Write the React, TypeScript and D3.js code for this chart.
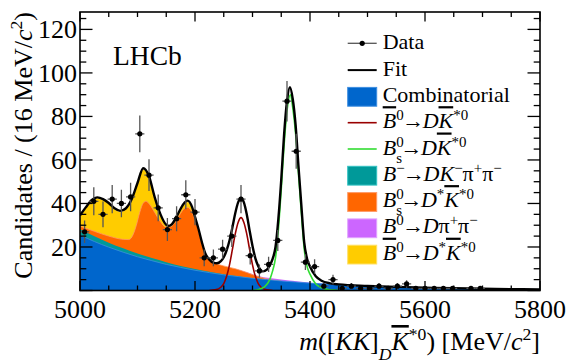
import React from 'react';
import * as d3 from 'd3';

type Pt = [number, number];

// mass grid [MeV/c^2], values = candidates per 16 MeV bin
const binWidth = 16;
const binStart = 5000;
const dataCounts = [
  27, 41, 35, 42, 40, 43, 72, 53, 38, 28, 33, 44, 36, 15, 15, 19, 25, 42, 16, 9,
  12, 23, 87, 64, 13, 11, 2, 5, 1, 2, 1, 1, 2, 1, 2, 3, 1, 1, 1, 1,
  1, 0, 1, 1, 0, 0, 0, 0, 0, 0,
];

// stacked upper edges of the filled components
const combTop: Pt[] = [
  [5000, 25.5], [5025, 22.5], [5050, 19.9], [5075, 17.6], [5100, 15.5], [5125, 13.7], [5150, 12.0],
  [5175, 10.6], [5200, 9.3], [5225, 8.2], [5250, 7.2], [5275, 6.4], [5300, 5.6], [5325, 5.0],
  [5350, 4.4], [5375, 3.9], [5400, 3.4], [5450, 2.7], [5500, 2.1], [5550, 1.65], [5600, 1.3],
  [5650, 1.0], [5700, 0.8], [5750, 0.6], [5800, 0.47],
];
const dkppTop: Pt[] = [
  [5000, 28.1], [5025, 24.9], [5050, 22.0], [5075, 19.4], [5100, 17.0], [5125, 14.9], [5150, 13.0],
  [5175, 11.3], [5200, 9.9], [5225, 8.6], [5250, 7.5], [5275, 6.5], [5300, 5.65], [5325, 5.0],
];
const bsDstarTop: Pt[] = [
  [5000, 29.6], [5025, 27.2], [5050, 25.0], [5075, 23.5], [5085, 23.4], [5092, 25.5], [5098, 30],
  [5104, 36], [5110, 40.2], [5115, 41], [5121, 39.6], [5130, 35.8], [5140, 31.6], [5150, 29],
  [5158, 29.3], [5166, 31.5], [5175, 35.5], [5182, 37.8], [5187, 38.2], [5193, 36.8], [5200, 32.5],
  [5206, 27.5], [5212, 21.5], [5218, 16.5], [5225, 14], [5235, 12.5], [5250, 11.3], [5270, 10],
  [5290, 8.3], [5310, 6.4], [5325, 5.3], [5340, 4.6], [5350, 4.4],
];
const dpipiTop: Pt[] = [
  [5270, 10], [5290, 8.4], [5310, 6.7], [5330, 5.7], [5350, 5.1], [5370, 4.5], [5390, 3.9],
  [5410, 3.3], [5430, 3.05], [5450, 2.7],
];
const bdDstarTop: Pt[] = [
  [5000, 34.2], [5010, 37.8], [5020, 41], [5030, 42.3], [5040, 41.6], [5050, 39.8], [5060, 37.4],
  [5070, 36.2], [5080, 37.3], [5090, 41.4], [5100, 48.8], [5110, 55.6], [5120, 52], [5130, 42.4],
  [5140, 34.6], [5150, 29.8], [5155, 29.3], [5160, 30.1], [5170, 34.5], [5180, 39.3], [5187, 40.7],
  [5195, 37.8], [5200, 33.3], [5206, 28], [5212, 21.8], [5218, 16.6], [5225, 14], [5235, 12.5],
];

// signal lines
const bdSignal: Pt[] = [
  [5225, 0], [5235, 0.3], [5245, 1.5], [5250, 3.2], [5255, 6.5], [5260, 11.8], [5265, 18.8],
  [5270, 26], [5275, 31.3], [5280, 33.5], [5285, 31.3], [5290, 26], [5295, 18.8], [5300, 11.8],
  [5305, 6.5], [5310, 3.2], [5315, 1.5], [5325, 0.3], [5335, 0],
];
const bsSignal: Pt[] = [
  [5300, 0], [5310, 0.4], [5320, 1.5], [5330, 5], [5335, 9], [5340, 15], [5345, 28], [5350, 46.5],
  [5355, 67], [5360, 82.5], [5366, 90], [5370, 84], [5375, 72], [5380, 53.5], [5385, 35.5],
  [5390, 19], [5395, 11], [5400, 7.5], [5410, 3], [5420, 1.3], [5435, 0.3], [5450, 0],
];

// total fit
const fitTotal: Pt[] = [
  [5000, 34.5], [5010, 38.2], [5020, 41.5], [5030, 42.8], [5040, 42], [5050, 40.2], [5060, 37.8],
  [5070, 36.6], [5080, 37.8], [5090, 42], [5100, 49.4], [5110, 56.2], [5120, 52.5], [5130, 42.8],
  [5140, 35], [5150, 30.2], [5155, 29.7], [5160, 30.5], [5170, 35], [5180, 39.8], [5187, 41.3],
  [5195, 38.3], [5200, 33.8], [5206, 28.4], [5212, 22.2], [5218, 17], [5225, 14.2], [5232, 12.8],
  [5238, 12.5], [5245, 13.5], [5250, 15.3], [5255, 18.5], [5260, 23], [5265, 29], [5270, 35.5],
  [5275, 40.5], [5280, 42.5], [5285, 40.5], [5290, 35], [5295, 27.5], [5300, 20.5], [5305, 14.8],
  [5310, 11.2], [5318, 8.8], [5325, 9.6], [5330, 11.5], [5335, 14.5], [5340, 20], [5345, 33],
  [5350, 51], [5355, 72], [5360, 87], [5365, 93.4], [5370, 88], [5375, 76], [5380, 57], [5385, 39],
  [5390, 22], [5395, 14.5], [5400, 11], [5410, 6.5], [5420, 4.5], [5435, 3.3], [5450, 2.8],
  [5500, 2.1], [5550, 1.65], [5600, 1.3], [5650, 1.0], [5700, 0.8], [5750, 0.6], [5800, 0.47],
];

const xMajor = [5000, 5200, 5400, 5600, 5800];
const yMajor = [0, 20, 40, 60, 80, 100, 120];

const colors = {
  comb: '#0066cc', combLine: '#3d8ee0',
  dkpp: '#009999', dkppLine: '#33c2c2',
  bsDstar: '#ff6600', bsDstarLine: '#ff9a66',
  dpipi: '#cc66ff', dpipiLine: '#e0a3ff',
  bdDstar: '#ffcc00', bdDstarLine: '#ffe066',
  bd: '#990000', bs: '#33dd33',
};

const FONT = '"Liberation Serif", "Times New Roman", serif';

const Sup: React.FC<{ t: string }> = ({ t }) => (
  <tspan baselineShift="super" fontSize="0.68em">{t}</tspan>
);
const Sub: React.FC<{ t: string; italic?: boolean; dx?: number }> = ({ t, italic, dx }) => (
  <tspan baselineShift="sub" fontSize="0.68em" fontStyle={italic ? 'italic' : 'normal'} dx={dx}>{t}</tspan>
);
const I: React.FC<{ t: string; bar?: boolean; dx?: number }> = ({ t, bar, dx }) => (
  <tspan fontStyle="italic" dx={dx} style={bar ? { textDecoration: 'overline' } : undefined}>{t}</tspan>
);
// arrow, pulled in a little so it sits tight like the original
const Arrow: React.FC = () => <tspan dx={-1.5}>→</tspan>;

const App: React.FC = () => {
  const width = 568;
  const height = 363;
  const x = d3.scaleLinear().domain([5000, 5800]).range([80, 540]);
  const y = d3.scaleLinear().domain([0, 128]).range([290.5, 12]);

  const area = d3.area<Pt>()
    .x(d => x(d[0]))
    .y0(y(0))
    .y1(d => y(d[1]))
    .curve(d3.curveMonotoneX);
  const line = d3.line<Pt>()
    .x(d => x(d[0]))
    .y(d => y(d[1]))
    .curve(d3.curveMonotoneX);

  const bins = dataCounts.map((c, i) => ({ m: binStart + binWidth * (i + 0.5), c }));

  const [x0, x1] = x.range();
  const [yb, yt] = y.range();

  const legendX = 382.7;
  const legendSym = [347.7, 376.7];
  const rows = [49.3, 75.6, 101.9, 128.2, 154.5, 180.8, 207.1, 233.4, 259.7];
  const boxRow = (i: number, fill: string, stroke: string) => (
    <rect x={legendSym[0]} y={rows[i] - 14.5} width={legendSym[1] - legendSym[0]} height={18.8}
      fill={fill} stroke={stroke} strokeWidth={1} />
  );
  const lineRow = (i: number, col: string, w: number) => (
    <line x1={legendSym[0]} x2={legendSym[1]} y1={rows[i] - 5.5} y2={rows[i] - 5.5} stroke={col} strokeWidth={w} />
  );

  return (
    <svg width={width} height={height} style={{ position: 'absolute', left: 0, top: 0, background: '#fff' }}
      fontFamily={FONT}>
      <defs>
        <clipPath id="frame">
          <rect x={x0} y={yt} width={x1 - x0} height={yb - yt} />
        </clipPath>
      </defs>

      <g clipPath="url(#frame)">
        {/* stacked components, painted from the top layer down */}
        <path d={area(bdDstarTop) || ''} fill={colors.bdDstar} />
        <path d={line(bdDstarTop) || ''} fill="none" stroke={colors.bdDstarLine} strokeWidth={0.8} />
        <path d={area(dpipiTop) || ''} fill={colors.dpipi} />
        <path d={area(bsDstarTop) || ''} fill={colors.bsDstar} />
        <path d={line(bsDstarTop) || ''} fill="none" stroke={colors.bsDstarLine} strokeWidth={0.8} />
        <path d={area(dkppTop) || ''} fill={colors.dkpp} />
        <path d={area(combTop) || ''} fill={colors.comb} />
        <path d={line(combTop) || ''} fill="none" stroke={colors.combLine} strokeWidth={0.8} />

        <path d={line(bdSignal) || ''} fill="none" stroke={colors.bd} strokeWidth={1.6} />
        <path d={line(bsSignal) || ''} fill="none" stroke={colors.bs} strokeWidth={1.6} />
        <path d={line(fitTotal) || ''} fill="none" stroke="#000" strokeWidth={2.4} />

        {/* data */}
        {bins.filter(b => b.c > 0).map((b, i) => {
          const e = Math.sqrt(b.c);
          return (
            <g key={i}>
              <line x1={x(b.m)} x2={x(b.m)} y1={y(b.c - e)} y2={y(b.c + e)} stroke="#555" strokeWidth={1.3} />
              <line x1={x(b.m - binWidth / 2)} x2={x(b.m + binWidth / 2)} y1={y(b.c)} y2={y(b.c)}
                stroke="#555" strokeWidth={1.3} />
              <circle cx={x(b.m)} cy={y(b.c)} r={2.6} fill="#000" />
            </g>
          );
        })}
      </g>

      {/* frame and ticks */}
      <rect x={x0} y={yt} width={x1 - x0} height={yb - yt} fill="none" stroke="#000" strokeWidth={1.6} />
      {d3.range(5000, 5801, 50).map(m => {
        const len = m % 200 === 0 ? 9.5 : 5;
        return (
          <g key={'xt' + m} stroke="#000" strokeWidth={1.3}>
            <line x1={x(m)} x2={x(m)} y1={yb} y2={yb - len} />
            <line x1={x(m)} x2={x(m)} y1={yt} y2={yt + len} />
          </g>
        );
      })}
      {d3.range(0, 128, 5).map(v => {
        const len = v % 20 === 0 ? 12.5 : 6.3;
        return (
          <g key={'yt' + v} stroke="#000" strokeWidth={1.3}>
            <line x1={x0} x2={x0 + len} y1={y(v)} y2={y(v)} />
            <line x1={x1} x2={x1 - len} y1={y(v)} y2={y(v)} />
          </g>
        );
      })}
      {xMajor.map(m => (
        <text key={'xl' + m} x={x(m)} y={318} fontSize={26} textAnchor="middle">{m}</text>
      ))}
      {yMajor.filter(v => v > 0).map(v => (
        <text key={'yl' + v} x={77} y={y(v) + 9} fontSize={26} textAnchor="end">{v}</text>
      ))}

      {/* axis titles */}
      <text x={540} y={350} fontSize={26} textAnchor="end">
        <I t="m" />([<I t="KK" />]<Sub t="D" italic /><I t="K" bar /><Sup t="*0" />) [MeV/<I t="c" /><Sup t="2" />]
      </text>
      <text transform="translate(32,12) rotate(-90)" fontSize={26} textAnchor="end">
        Candidates / (16 MeV/<I t="c" /><Sup t="2" />)
      </text>

      <text x={113} y={65} fontSize={27.5}>LHCb</text>

      {/* legend */}
      <g>
        <line x1={legendSym[0]} x2={legendSym[1]} y1={rows[0] - 6} y2={rows[0] - 6} stroke="#555" strokeWidth={1.3} />
        <circle cx={(legendSym[0] + legendSym[1]) / 2} cy={rows[0] - 6} r={2.6} fill="#000" />
        {lineRow(1, '#000', 2)}
        {boxRow(2, colors.comb, colors.combLine)}
        {lineRow(3, colors.bd, 1.6)}
        {lineRow(4, colors.bs, 1.6)}
        {boxRow(5, colors.dkpp, colors.dkppLine)}
        {boxRow(6, colors.bsDstar, colors.bsDstarLine)}
        {boxRow(7, colors.dpipi, colors.dpipiLine)}
        {boxRow(8, colors.bdDstar, colors.bdDstarLine)}
        <g fontSize={22}>
          <text x={legendX} y={rows[0]}>Data</text>
          <text x={legendX} y={rows[1]}>Fit</text>
          <text x={legendX} y={rows[2]}>Combinatorial</text>
          <text x={legendX} y={rows[3]}>
            <I t="B" bar /><Sup t="0" /><Arrow /><I t="D" dx={-1.5} /><I t="K" bar /><Sup t="*0" />
          </text>
          <text x={legendX} y={rows[4]}>
            <I t="B" /><Sup t="0" /><Sub t="s" dx={-7.5} /><Arrow /><I t="D" dx={-1.5} /><I t="K" bar /><Sup t="*0" />
          </text>
          <text x={legendX} y={rows[5]}>
            <I t="B" /><Sup t="−" /><Arrow /><I t="D" dx={-1.5} /><I t="K" /><Sup t="−" />π<Sup t="+" />π<Sup t="−" />
          </text>
          <text x={legendX} y={rows[6]}>
            <I t="B" /><Sup t="0" /><Sub t="s" dx={-7.5} /><Arrow /><I t="D" dx={-1.5} /><Sup t="*" /><I t="K" bar /><Sup t="*0" />
          </text>
          <text x={legendX} y={rows[7]}>
            <I t="B" /><Sup t="0" /><Arrow /><I t="D" dx={-1.5} />π<Sup t="+" />π<Sup t="−" />
          </text>
          <text x={legendX} y={rows[8]}>
            <I t="B" bar /><Sup t="0" /><Arrow /><I t="D" dx={-1.5} /><Sup t="*" /><I t="K" bar /><Sup t="*0" />
          </text>
        </g>
      </g>
    </svg>
  );
};

export default App;
